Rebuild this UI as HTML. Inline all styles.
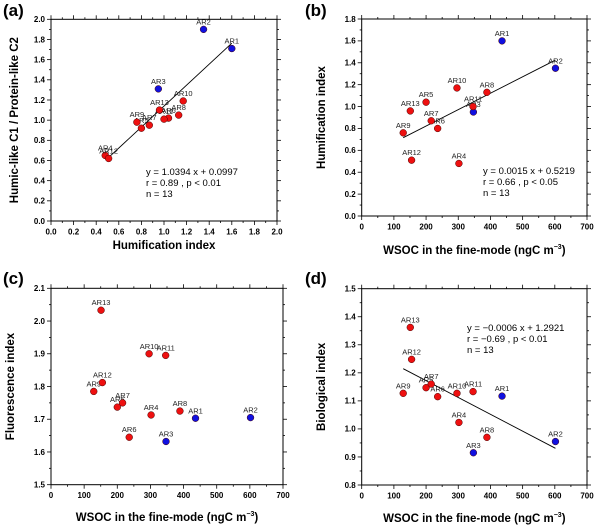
<!DOCTYPE html>
<html><head><meta charset="utf-8"><style>
body{margin:0;background:#fff}
svg{display:block;font-family:"Liberation Sans",Arial,sans-serif}
</style></head><body>
<svg id="fig" width="600" height="532" viewBox="0 0 600 532"></svg>
<script>
const arLabels=["AR1","AR2","AR3","AR4","AR5","AR6","AR7","AR8","AR9","AR10","AR11","AR12","AR13"];
const arColors=["b","b","b","r","r","r","r","r","r","r","r","r","r"];
const wsoc=[436,602,347,302,200,236,216,389,129,296,346,155,151];
const aHI=[1.60,1.35,0.95,0.48,0.80,1.04,0.87,1.13,0.76,1.17,1.00,0.51,0.96];
const aRatio=[1.71,1.90,1.31,0.65,0.92,1.02,0.95,1.05,0.98,1.19,1.01,0.62,1.10];
const humIdx=[1.60,1.35,0.95,0.48,1.04,0.80,0.87,1.13,0.76,1.17,1.00,0.51,0.96];
const fluoIdx=[1.703,1.705,1.632,1.713,1.737,1.645,1.75,1.725,1.785,1.90,1.895,1.812,2.033];
const bioIdx=[1.117,0.955,0.915,1.023,1.147,1.115,1.16,0.97,1.127,1.127,1.133,1.248,1.362];
const aFit=[1.0394,0.0997];
const bFit=[0.0015,0.5219];
const dFit=[-0.0006,1.2921];

const NS="http://www.w3.org/2000/svg";
const svg=document.getElementById('fig');
function mk(tag,attrs,parent,text){const e=document.createElementNS(NS,tag);for(const k in attrs)e.setAttribute(k,attrs[k]);if(text!==undefined)e.textContent=text;(parent||svg).appendChild(e);return e;}

function panel(o){
  const g=mk('g',{});
  
  
  const sx=v=>o.L+(v-o.x0)/(o.x1-o.x0)*(o.R-o.L);
  const sy=v=>o.B-(v-o.y0)/(o.y1-o.y0)*(o.B-o.T);
  const fr=mk('rect',{x:o.L,y:o.T,width:o.R-o.L,height:o.B-o.T,fill:'none',stroke:'#000','stroke-width':1},g);
  
  
  const nx=Math.round((o.x1-o.x0)/o.xm);
  for(let i=0;i<=nx;i++){const v=o.x0+i*o.xm;const X=sx(v);const major=i%2==0;const len=major?4:2;
    mk('line',{x1:X,y1:o.B,x2:X,y2:o.B+len,stroke:'#000','stroke-width':0.8},g);
    mk('line',{x1:X,y1:o.T,x2:X,y2:o.T-len,stroke:'#000','stroke-width':0.8},g);
    if(major){const t=mk('text',{x:X,y:o.B+13.5,'font-size':8,'font-weight':'bold','text-anchor':'middle'},g,o.xfmt(v));
      }
  }
  const ny=Math.round((o.y1-o.y0)/o.ym);
  for(let i=0;i<=ny;i++){const v=o.y0+i*o.ym;const Y=sy(v);const major=i%2==0;const len=major?4:2;
    mk('line',{x1:o.L,y1:Y,x2:o.L-len,y2:Y,stroke:'#000','stroke-width':0.8},g);
    mk('line',{x1:o.R,y1:Y,x2:o.R+len,y2:Y,stroke:'#000','stroke-width':0.8},g);
    if(major){const t=mk('text',{x:o.L-6,y:Y+2.8,'font-size':8,'font-weight':'bold','text-anchor':'end'},g,v.toFixed(1));
      }
  }
  if(o.fit){const a=o.fit[0],b=o.fit[1];
    const l=mk('line',{x1:sx(o.fx[0]),y1:sy(a*o.fx[0]+b),x2:sx(o.fx[1]),y2:sy(a*o.fx[1]+b),stroke:'#000','stroke-width':0.9},g);
    }
  for(let i=0;i<o.xs.length;i++){
    const c=mk('circle',{cx:sx(o.xs[i]),cy:sy(o.ys[i]),r:3.4,fill:arColors[i]=='b'?'#1010e0':'#ee1010',stroke:'#400','stroke-width':0.5},g);
    
    const t=mk('text',{x:sx(o.xs[i]),y:sy(o.ys[i])-5,'font-size':7.5,'text-anchor':'middle',fill:'#222'},g,arLabels[i]);
    
  }
  const xt=mk('text',{x:(o.L+o.R)/2,y:o.xtY,'font-size':11.5,'font-weight':'bold','text-anchor':'middle'},g);
  
  xt.textContent=o.xt;
  if(o.sup){mk('tspan',{'font-size':7,dy:-5},xt,'−3');mk('tspan',{dy:5},xt,')');}
  const yt=mk('text',{x:0,y:0,'font-size':11.5,'font-weight':'bold','text-anchor':'middle',transform:`translate(${o.ytX},${(o.T+o.B)/2}) rotate(-90)`},g,o.yt);
  
  const pl=mk('text',{x:o.pl[0],y:o.pl[1],'font-size':17,'font-weight':'bold'},g,o.letter);
  
  if(o.ann){o.ann.forEach((s,k)=>{const t=mk('text',{x:o.annX,y:o.annY+k*11,'font-size':9.5},g,s);
    });}
}
const f1=v=>v.toFixed(1), f0=v=>String(Math.round(v));
panel({name:'panel-a',L:51,R:277,T:19.3,B:221,x0:0,x1:2,xm:0.1,y0:0,y1:2,ym:0.1,xfmt:f1,xs:aHI,ys:aRatio,
  fit:aFit,fx:[0.49,1.60],xt:'Humification index',xtY:249,yt:'Humic-like C1 / Protein-like C2',ytX:18,pl:[3,16],letter:'(a)',
  ann:['y = 1.0394 x + 0.0997','r = 0.89 , p < 0.01','n = 13'],annX:146,annY:175});
panel({name:'panel-b',L:361.7,R:587,T:19,B:216,x0:0,x1:700,xm:50,y0:0,y1:1.8,ym:0.1,xfmt:f0,xs:wsoc,ys:humIdx,
  fit:bFit,fx:[129,602],xt:'WSOC in the fine-mode (ngC m',sup:true,xtY:254,yt:'Humification index',ytX:325,pl:[305,16],letter:'(b)',
  ann:['y = 0.0015 x + 0.5219','r = 0.66 , p < 0.05','n = 13'],annX:483,annY:174});
panel({name:'panel-c',L:51,R:283,T:288.3,B:484.7,x0:0,x1:700,xm:50,y0:1.5,y1:2.1,ym:0.05,xfmt:f0,xs:wsoc,ys:fluoIdx,
  xt:'WSOC in the fine-mode (ngC m',sup:true,xtY:521,yt:'Fluorescence index',ytX:14,pl:[3,284],letter:'(c)'});
panel({name:'panel-d',L:361.7,R:587,T:288.7,B:485,x0:0,x1:700,xm:50,y0:0.8,y1:1.5,ym:0.05,xfmt:f0,xs:wsoc,ys:bioIdx,
  fit:dFit,fx:[129,602],xt:'WSOC in the fine-mode (ngC m',sup:true,xtY:522,yt:'Biological index',ytX:325,pl:[305,284],letter:'(d)',
  ann:['y = −0.0006 x + 1.2921','r = −0.69 , p < 0.01','n = 13'],annX:467,annY:331});
</script>
</body></html>
